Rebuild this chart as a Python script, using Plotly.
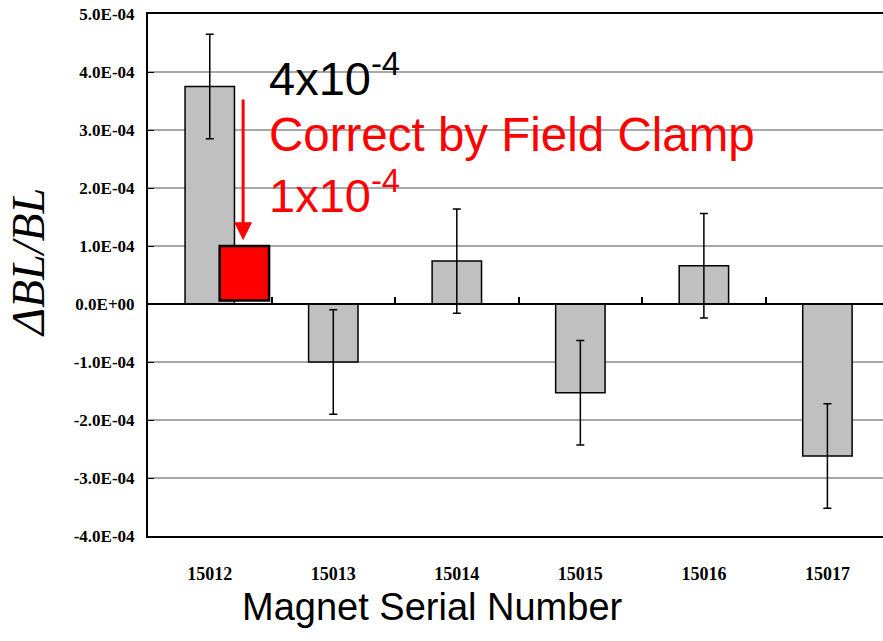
import plotly.graph_objects as go

# ---- data ----
serials = ["15012", "15013", "15014", "15015", "15016", "15017"]
delta_bl = [3.75e-4, -1.0e-4, 0.74e-4, -1.53e-4, 0.66e-4, -2.62e-4]
errors = [0.9e-4, 0.9e-4, 0.9e-4, 0.9e-4, 0.9e-4, 0.9e-4]
corrected_value = [1.0e-4]
corrected_base = [0.06e-4]
corrected_pos = [0.28]
ytick_vals = [-4e-4, -3e-4, -2e-4, -1e-4, 0, 1e-4, 2e-4, 3e-4, 4e-4, 5e-4]
ytick_text = ["-4.0E-04", "-3.0E-04", "-2.0E-04", "-1.0E-04", "0.0E+00",
              "1.0E-04", "2.0E-04", "3.0E-04", "4.0E-04", "5.0E-04"]
arrow_from = 3.55e-4
arrow_to = 1.1e-4

xpos = list(range(len(serials)))
boundaries = [i + 0.5 for i in range(len(serials) - 1)]
xrange_ = [-0.5, 5.45]

fig = go.Figure()
fig.add_trace(go.Bar(
    x=xpos, y=delta_bl, width=0.4,
    marker=dict(color="#c0c0c0", line=dict(color="black", width=1.5)),
    error_y=dict(type="data", array=errors, color="black", thickness=1.5, width=4),
    showlegend=False, hoverinfo="skip",
))
fig.add_trace(go.Bar(
    x=corrected_pos, y=[v - b for v, b in zip(corrected_value, corrected_base)],
    base=corrected_base, width=0.4,
    marker=dict(color="#ff0000", line=dict(color="black", width=2.5)),
    showlegend=False, hoverinfo="skip",
))
# invisible trace to carry the zero-line tick axis
fig.add_trace(go.Scatter(x=xpos, y=[0] * len(xpos), xaxis="x2", yaxis="y",
                         mode="markers", marker=dict(opacity=0),
                         showlegend=False, hoverinfo="skip"))

fig.update_layout(
    width=883, height=641,
    margin=dict(l=148, r=0, t=14, b=105),
    paper_bgcolor="white", plot_bgcolor="white",
    barmode="overlay",
    xaxis=dict(
        range=xrange_, tickvals=xpos, ticktext=serials,
        showline=True, linecolor="black", linewidth=2, mirror=True,
        showgrid=False, zeroline=False, ticks="",
        tickfont=dict(family="Liberation Serif", size=18, color="black", weight="bold"),
        ticklabelstandoff=20,
    ),
    xaxis2=dict(
        overlaying="x", anchor="free", position=4 / 9, side="bottom",
        range=xrange_, tickvals=boundaries, showticklabels=False,
        ticks="inside", ticklen=6, tickwidth=2, tickcolor="black",
        showline=True, linecolor="black", linewidth=2,
        showgrid=False, zeroline=False,
    ),
    yaxis=dict(
        range=[-4e-4, 5e-4], tickvals=ytick_vals, ticktext=ytick_text,
        showline=True, linecolor="black", linewidth=2, mirror=False,
        showgrid=True, gridcolor="#a8a8a8", gridwidth=2,
        zeroline=False, ticks="inside", ticklen=6, tickcolor="black",
        tickfont=dict(family="Liberation Serif", size=17, color="black", weight="bold"),
        ticklabelstandoff=8,
    ),
    annotations=[
        dict(x=0.27, y=arrow_to, ax=0.27, ay=arrow_from, xref="x", yref="y",
             axref="x", ayref="y", text="", showarrow=True, arrowhead=2,
             arrowsize=1.2, arrowwidth=3, arrowcolor="#ff0000"),
        dict(x=0.46, y=3.95e-4, xref="x", yref="y", xanchor="left", yanchor="middle",
             text="4x10<sup>-4</sup>", showarrow=False,
             font=dict(family="Liberation Sans", size=47, color="black")),
        dict(x=0.46, y=2.93e-4, xref="x", yref="y", xanchor="left", yanchor="middle",
             text="Correct by Field Clamp", showarrow=False,
             font=dict(family="Liberation Sans", size=47.5, color="#ff0000")),
        dict(x=0.46, y=1.93e-4, xref="x", yref="y", xanchor="left", yanchor="middle",
             text="1x10<sup>-4</sup>", showarrow=False,
             font=dict(family="Liberation Sans", size=47, color="#ff0000")),
        dict(x=(28 - 148) / 735, y=(536 - 263) / 522, xref="paper", yref="paper",
             xanchor="center", yanchor="middle", textangle=-90,
             text="<i>ΔBL/BL</i>", showarrow=False,
             font=dict(family="Liberation Serif", size=46, color="black")),
        dict(x=(432 - 148) / 735, y=(536 - 607) / 522, xref="paper", yref="paper",
             xanchor="center", yanchor="middle",
             text="Magnet Serial Number", showarrow=False,
             font=dict(family="Liberation Sans", size=38, color="black")),
    ],
)

fig.write_html("out.html")
